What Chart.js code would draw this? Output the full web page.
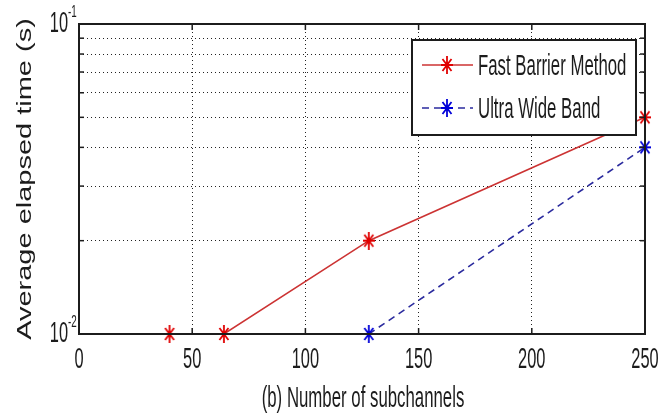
<!DOCTYPE html>
<html>
<head>
<meta charset="utf-8">
<script src="https://cdn.jsdelivr.net/npm/chart.js@4"></script>
<style>
  html, body { margin: 0; padding: 0; background: #fff; }
  canvas { display: block; }
</style>
</head>
<body>
<canvas id="myChart" width="667" height="414"></canvas>
<script>
// ---- data ----
const xTicks = [0, 50, 100, 150, 200, 250];
const yTickValues = [0.01, 0.1];
const seriesNames = ['Fast Barrier Method', 'Ultra Wide Band'];
const fbmX = [40, 64, 128, 250];
const fbmY = [0.01, 0.01, 0.02, 0.05];
const uwbX = [128, 250];
const uwbY = [0.01, 0.04];
const xTitle = '(b) Number of subchannels';
const yTitle = 'Average elapsed time (s)';

const regular = '"Liberation Sans", Arial, sans-serif';
const ink = '#1c1c1c';

// matlab style '*' marker, a bit taller than wide like the picture
function makeStar(color) {
    const c = document.createElement('canvas');
    c.width = 12; c.height = 18;
    const g = c.getContext('2d');
    g.strokeStyle = color;
    g.lineWidth = 1.8;
    g.beginPath();
    g.moveTo(6, 0); g.lineTo(6, 18);
    g.moveTo(0, 9); g.lineTo(12, 9);
    g.moveTo(1.5, 3); g.lineTo(10.5, 15);
    g.moveTo(10.5, 3); g.lineTo(1.5, 15);
    g.stroke();
    return c;
}
const redStar = makeStar('#e00000');
const blueStar = makeStar('#0000d8');

// the source picture is squeezed sideways / stretched up, so the text is too
function stretchText(ctx, txt, x, y, size, align, sx, sy) {
    ctx.save();
    ctx.translate(x, y);
    ctx.scale(sx, sy);
    ctx.font = size + 'px ' + regular;
    ctx.textAlign = align;
    ctx.textBaseline = 'middle';
    ctx.fillStyle = ink;
    ctx.fillText(txt, 0, 0);
    ctx.restore();
}

function seg(ctx, x1, y1, x2, y2) {
    ctx.beginPath(); ctx.moveTo(x1, y1); ctx.lineTo(x2, y2); ctx.stroke();
}

// ---- frame, inner ticks, labels, legend ----
const matlabLook = {
    id: 'matlabLook',
    afterDatasetsDraw(chart) {
        const { ctx, chartArea: a, scales: { x, y } } = chart;
        ctx.save();
        ctx.strokeStyle = ink;
        ctx.lineWidth = 2;
        ctx.strokeRect(a.left, a.top, a.right - a.left, a.bottom - a.top);

        ctx.lineWidth = 1.5;
        x.ticks.forEach(t => {
            const px = x.getPixelForValue(t.value);
            seg(ctx, px, a.bottom, px, a.bottom - 6);
            seg(ctx, px, a.top, px, a.top + 6);
        });
        y.ticks.forEach(t => {
            const py = y.getPixelForValue(t.value);
            seg(ctx, a.left, py, a.left + 5, py);
            seg(ctx, a.right, py, a.right - 5, py);
        });

        // tick labels
        xTicks.forEach(v => {
            stretchText(ctx, String(v), x.getPixelForValue(v), 360, 20, 'center', 0.82, 1.45);
        });
        yTickValues.forEach(v => {
            const py = y.getPixelForValue(v);
            stretchText(ctx, '10', a.left - 11, py, 20, 'right', 0.82, 1.45);
            stretchText(ctx, String(Math.round(Math.log10(v))), a.left - 11, py - 12, 12, 'left', 0.82, 1.4);
        });

        // axis titles
        stretchText(ctx, xTitle, (a.left + a.right) / 2 + 1, 399, 20, 'center', 0.84, 1.45);
        ctx.save();
        ctx.translate(25, 179);
        ctx.rotate(-Math.PI / 2);
        ctx.scale(1.38, 1);
        ctx.font = '21px ' + regular;
        ctx.textAlign = 'center';
        ctx.textBaseline = 'middle';
        ctx.fillStyle = ink;
        ctx.fillText(yTitle, 0, 0);
        ctx.restore();

        // legend box
        const bx = 412, by = 40, bw = 224, bh = 95;
        ctx.fillStyle = '#fff';
        ctx.fillRect(bx, by, bw, bh);
        ctx.lineWidth = 2;
        ctx.strokeStyle = ink;
        ctx.strokeRect(bx, by, bw, bh);
        const rows = [65, 108];
        chart.data.datasets.forEach((ds, i) => {
            const ry = rows[i];
            ctx.save();
            ctx.strokeStyle = ds.borderColor;
            ctx.lineWidth = ds.borderWidth;
            ctx.setLineDash(ds.borderDash || []);
            seg(ctx, 422, ry, 473, ry);
            ctx.restore();
            const img = ds.pointStyle;
            ctx.drawImage(img, 447 - img.width / 2, ry - img.height / 2);
            stretchText(ctx, ds.label, 478, ry + 2, 21, 'left', 0.8, 1.4);
        });
        ctx.restore();
    }
};

const ctx = document.getElementById('myChart');
new Chart(ctx, {
    type: 'line',
    data: {
        datasets: [{
            label: seriesNames[0],
            data: fbmX.map((v, i) => ({ x: v, y: fbmY[i] })),
            borderColor: '#cc3333',
            borderWidth: 1.6,
            pointStyle: redStar,
            pointRadius: 6,
            clip: false
        }, {
            label: seriesNames[1],
            data: uwbX.map((v, i) => ({ x: v, y: uwbY[i] })),
            borderColor: '#2b2b9e',
            borderWidth: 1.6,
            borderDash: [7, 5],
            pointStyle: blueStar,
            pointRadius: 6,
            clip: false
        }]
    },
    options: {
        responsive: false,
        animation: false,
        devicePixelRatio: 1,
        layout: { padding: { top: 24, right: 22, left: 0, bottom: 0 } },
        plugins: { legend: { display: false }, tooltip: { enabled: false } },
        scales: {
            x: {
                type: 'linear',
                min: 0,
                max: 250,
                ticks: { stepSize: 50, display: false },
                grid: { color: '#222', lineWidth: 1, drawTicks: false },
                border: { display: false, dash: [1, 3] },
                afterFit: s => { s.height = 80; }
            },
            y: {
                type: 'logarithmic',
                min: 0.01,
                max: 0.1,
                ticks: { display: false },
                grid: { color: '#222', lineWidth: 1, drawTicks: false },
                border: { display: false, dash: [1, 3] },
                // keep only 1..9 x 10^n like matlab
                afterBuildTicks: s => {
                    s.ticks = s.ticks.filter(t => {
                        const m = t.value / Math.pow(10, Math.floor(Math.log10(t.value) + 1e-9));
                        return Math.abs(m - Math.round(m)) < 1e-6;
                    });
                },
                afterFit: s => { s.width = 79; }
            }
        }
    },
    plugins: [matlabLook]
});
</script>
</body>
</html>
